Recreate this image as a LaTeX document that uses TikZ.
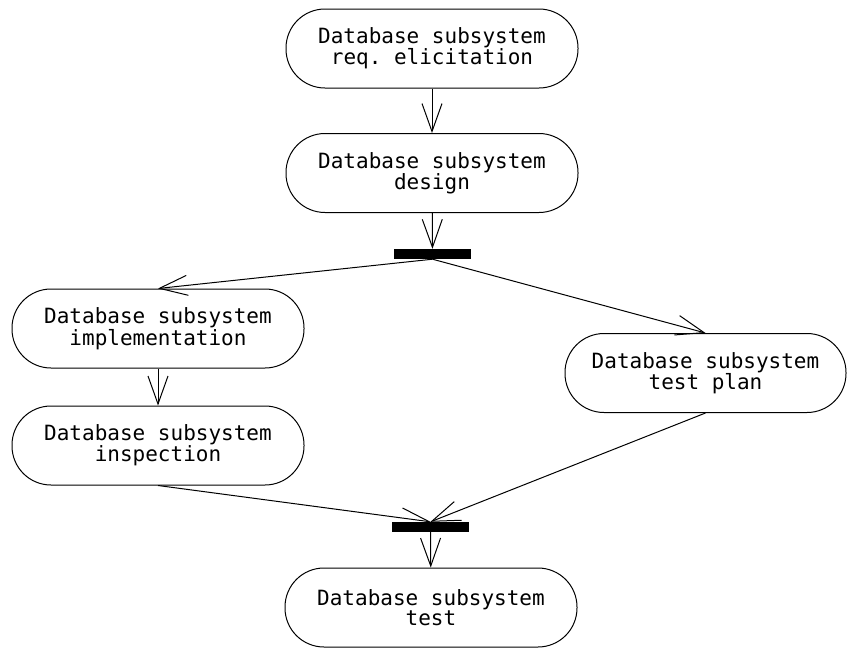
\documentclass[tikz,border=0pt]{standalone}
\usepackage{fontspec}
\setmonofont{DejaVu Sans Mono}
\usetikzlibrary{arrows.meta}
\begin{document}
\begin{tikzpicture}[x=1pt,y=-1pt,font=\ttfamily\fontsize{21}{19}\selectfont,
  act/.style={draw,line width=1pt,rounded corners=39pt,minimum width=292pt,minimum height=79pt,align=center,inner sep=0pt},
  bar/.style={fill,minimum width=77pt,minimum height=10pt,inner sep=0pt},
  flow/.style={line width=1pt,-{Straight Barb[length=28pt,width=20pt,line width=1pt]}}]
\useasboundingbox (0,0) rectangle (847,648);
% activities
\node[act] (elicit) at (432,48.5) {Database subsystem\\req. elicitation};
\node[act] (design) at (432,173) {Database subsystem\\design};
\node[bar] (fork) at (432.5,254) {};
\node[act] (impl) at (158,328.5) {Database subsystem\\implementation};
\node[act,minimum width=281pt] (plan) at (705.5,373) {Database subsystem\\test plan};
\node[act] (insp) at (158,445.5) {Database subsystem\\inspection};
\node[bar] (join) at (430.5,527) {};
\node[act] (test) at (431,607.5) {Database subsystem\\test};
% flows
\draw[flow] (elicit) -- (design);
\draw[flow] (design) -- (fork);
\draw[flow] (fork.south) -- (impl.north);
\draw[flow] (fork.south) -- (plan.north);
\draw[flow] (impl) -- (insp);
\draw[flow] (insp.south) -- (join.north);
\draw[flow] (plan.south) -- (join.north);
\draw[flow] (join) -- (test);
\end{tikzpicture}
\end{document}
